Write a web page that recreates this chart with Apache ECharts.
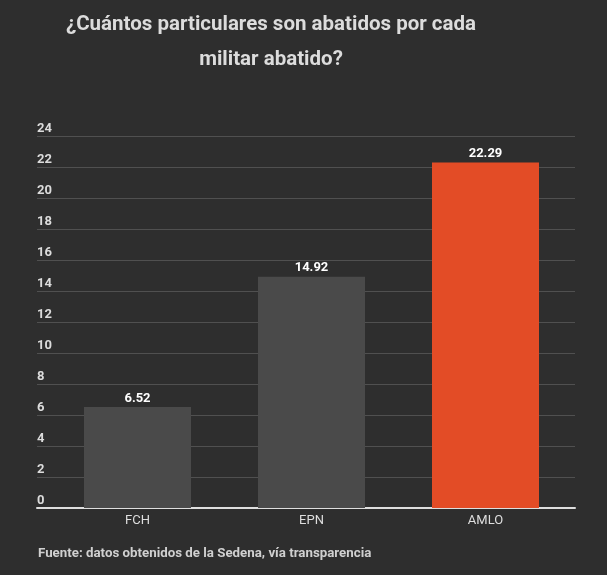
<!DOCTYPE html>
<html>
<head>
<meta charset="utf-8">
<script src="https://cdn.jsdelivr.net/npm/echarts@6/dist/echarts.min.js"></script>
<style>
html,body{margin:0;padding:0;background:#2e2e2e;}
#chart{width:607px;height:575px;}
</style>
</head>
<body>
<div id="chart"></div>
<script>
const categories = ['FCH', 'EPN', 'AMLO'];
const values = [6.52, 14.92, 22.29];
const barColors = ['#4a4a4a', '#4a4a4a', '#e34c26'];
const titleText = '¿Cuántos particulares son abatidos por cada\nmilitar abatido?';
const sourceText = 'Fuente: datos obtenidos de la Sedena, vía transparencia';

const chart = echarts.init(document.getElementById('chart'), null, {renderer: 'canvas'});
const font = 'Roboto';
chart.setOption({
  backgroundColor: '#2e2e2e',
  animation: false,
  title: [
    {
      text: titleText,
      left: 271, top: 7, textAlign: 'center', padding: 0,
      textStyle: {color: '#dcdcdc', fontFamily: font, fontWeight: 'bold', fontSize: 20.5, lineHeight: 35}
    },
    {
      text: sourceText,
      left: 38, top: 547, padding: 0,
      textStyle: {color: '#d0d0d0', fontFamily: font, fontWeight: 'bold', fontSize: 13.3}
    }
  ],
  grid: [
    {left: 37, right: 32, top: 136, bottom: 67},
    {left: 50.5, right: 34.5, top: 136, bottom: 67}
  ],
  xAxis: [
    {
      type: 'category', gridIndex: 0, data: categories,
      axisLine: {show: true, lineStyle: {color: '#dedede', width: 2}},
      axisTick: {show: false}, axisLabel: {show: false}
    },
    {
      type: 'category', gridIndex: 1, data: categories,
      axisLine: {show: false}, axisTick: {show: false},
      axisLabel: {color: '#dedede', fontFamily: font, fontSize: 13, margin: 6}
    }
  ],
  yAxis: [
    {
      type: 'value', gridIndex: 0, min: 0, max: 24, interval: 2,
      axisLine: {show: false}, axisTick: {show: false},
      splitLine: {show: true, lineStyle: {color: '#505050', width: 1}},
      axisLabel: {inside: true, margin: 0, align: 'left', verticalAlign: 'bottom', padding: [0, 0, 1, 0],
        color: '#dcdcdc', fontFamily: font, fontWeight: 'bold', fontSize: 13}
    },
    {
      type: 'value', gridIndex: 1, min: 0, max: 24, interval: 2, show: false,
      splitLine: {show: false}
    }
  ],
  series: [{
    type: 'bar', xAxisIndex: 1, yAxisIndex: 1,
    barWidth: 107,
    data: values.map((v, i) => ({value: v, itemStyle: {color: barColors[i]}})),
    label: {show: true, position: 'top', distance: 2, color: '#ffffff', fontFamily: font, fontWeight: 'bold', fontSize: 13,
      formatter: p => p.value.toFixed(2)}
  }]
});
</script>
</body>
</html>
